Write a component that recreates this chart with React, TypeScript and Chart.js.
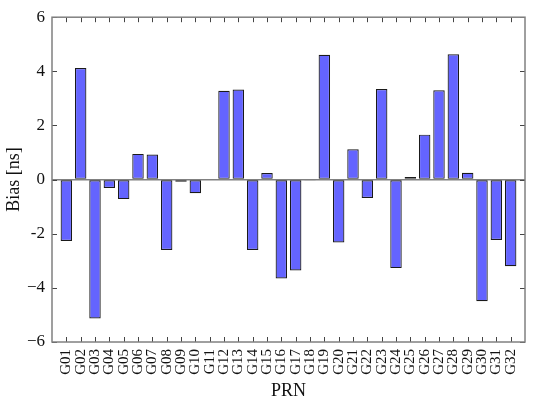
import React, { useEffect, useRef } from "react";
import { Chart, registerables } from "chart.js";

Chart.register(...registerables);

const categories = [
  "G01", "G02", "G03", "G04", "G05", "G06", "G07", "G08",
  "G09", "G10", "G11", "G12", "G13", "G14", "G15", "G16",
  "G17", "G18", "G19", "G20", "G21", "G22", "G23", "G24",
  "G25", "G26", "G27", "G28", "G29", "G30", "G31", "G32",
];

const bias = [
  -2.27, 4.12, -5.13, -0.31, -0.72, 0.95, 0.93, -2.6,
  -0.08, -0.5, 0, 3.28, 3.33, -2.6, 0.24, -3.65,
  -3.36, -0.03, 4.61, -2.32, 1.12, -0.68, 3.35, -3.27,
  0.1, 1.66, 3.3, 4.63, 0.25, -4.49, -2.23, -3.2,
];

const yTicks = [-6, -4, -2, 0, 2, 4, 6];
const yTickLabels = ["\u22126", "\u22124", "-2", "0", "2", "4", "6"];

const FONT = "'Liberation Serif', 'Times New Roman', serif";

const framePlugin = {
  id: "frameTicks",
  afterDraw(chart: any) {
    const { ctx, chartArea } = chart;
    const { left, right, top, bottom } = chartArea;
    const xs = chart.scales.x;
    const ys = chart.scales.y;
    const tl = 5;
    ctx.save();
    ctx.strokeStyle = "#444";
    ctx.lineWidth = 1;
    ctx.beginPath();
    for (let i = 1; i <= categories.length; i++) {
      const px = Math.round(xs.getPixelForValue(i)) + 0.5;
      ctx.moveTo(px, bottom);
      ctx.lineTo(px, bottom - tl);
      ctx.moveTo(px, top);
      ctx.lineTo(px, top + tl);
    }
    for (const v of yTicks) {
      const py = Math.round(ys.getPixelForValue(v)) + 0.5;
      ctx.moveTo(left, py);
      ctx.lineTo(left + tl, py);
      ctx.moveTo(right, py);
      ctx.lineTo(right - tl, py);
    }
    ctx.stroke();
    ctx.strokeStyle = "#808080";
    ctx.lineWidth = 1.5;
    ctx.strokeRect(left, top, right - left, bottom - top);
    ctx.restore();
  },
};

export default function App() {
  const ref = useRef<HTMLCanvasElement | null>(null);

  useEffect(() => {
    document.body.style.margin = "0";
    const canvas = ref.current!;
    const labels = ["", ...categories, ""];
    const values = [null, ...bias, null];
    const chart = new Chart(canvas, {
      type: "bar",
      data: {
        labels,
        datasets: [
          {
            data: values as any,
            backgroundColor: "#6464ff",
            borderColor: "#1a1a1a",
            borderWidth: 1.2,
            borderSkipped: false,
            barPercentage: 0.8,
            categoryPercentage: 1.0,
          },
        ],
      },
      options: {
        animation: false,
        responsive: false,
        devicePixelRatio: 1,
        layout: { padding: { left: 0, right: 10, top: 13, bottom: 0 } },
        plugins: { legend: { display: false }, tooltip: { enabled: false } },
        scales: {
          x: {
            type: "category",
            offset: false,
            grid: { display: false, drawTicks: false },
            border: { display: false },
            ticks: {
              autoSkip: false,
              minRotation: 90,
              maxRotation: 90,
              padding: 7,
              color: "#111",
              font: { family: FONT, size: 15 },
            },
            title: {
              display: true,
              text: "PRN",
              color: "#111",
              font: { family: FONT, size: 18 },
              padding: { top: 0, bottom: 3 },
            },
            afterFit(scale: any) {
              scale.height = 63;
            },
          },
          y: {
            min: -6,
            max: 6,
            grid: {
              drawTicks: false,
              color: (c: any) => (c.tick && c.tick.value === 0 ? "#808080" : "rgba(0,0,0,0)"),
              lineWidth: 1.5,
            },
            border: { display: false },
            afterBuildTicks(scale: any) {
              scale.ticks = yTicks.map((v) => ({ value: v }));
            },
            ticks: {
              padding: 7,
              color: "#111",
              font: { family: FONT, size: 17 },
              callback: (v: any) => {
                const i = yTicks.indexOf(Number(v));
                return i >= 0 ? yTickLabels[i] : "";
              },
            },
            title: {
              display: true,
              text: "Bias [ns]",
              color: "#111",
              font: { family: FONT, size: 18 },
              padding: { top: 3, bottom: 0 },
            },
            afterFit(scale: any) {
              scale.width = 52;
            },
          },
        },
      },
      plugins: [framePlugin],
    });
    return () => chart.destroy();
  }, []);

  return (
    <div style={{ width: 550, height: 405 }}>
      <canvas ref={ref} width={550} height={405} style={{ display: "block" }} />
    </div>
  );
}
